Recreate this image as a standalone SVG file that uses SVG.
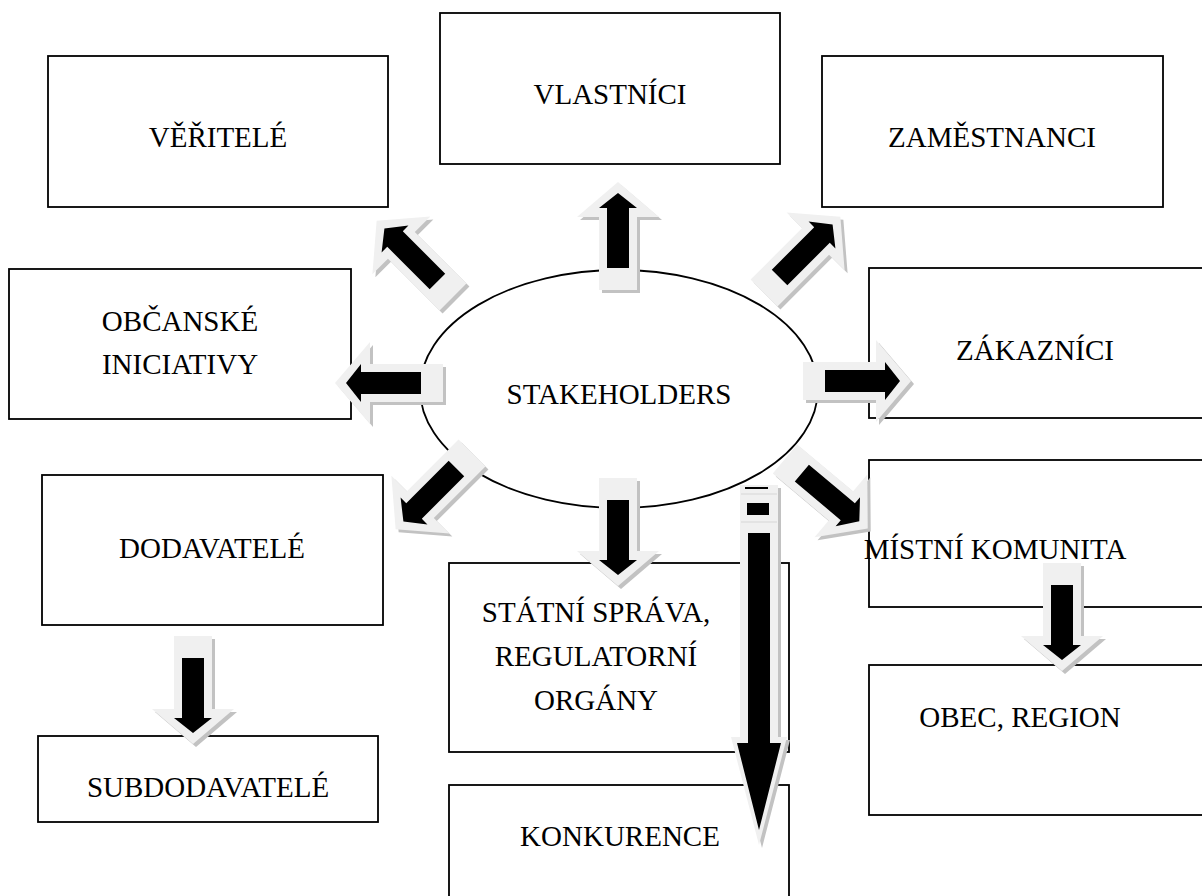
<svg xmlns="http://www.w3.org/2000/svg" xmlns:xlink="http://www.w3.org/1999/xlink" width="1202" height="896" viewBox="0 0 1202 896">
  <style>
    .box { fill: #ffffff; stroke: #000000; stroke-width: 1.8; }
    .hub { fill: #ffffff; stroke: #000000; stroke-width: 1.8; }
    .label { font-family: "Liberation Serif", "Times New Roman", serif; font-size: 29px; fill: #000000; text-anchor: middle; }
    .shadow { fill: #c2c2c2; }
    .light { fill: #f0f0f0; }
    .core { fill: #000000; }
    .sep { stroke: #d6d6d6; stroke-width: 1.2; fill: none; }
  </style>
  <defs>
    <!-- block arrow drawn pointing right, tail centre at the origin -->
    <path id="arrow-outer" d="M0,-19 H73 V-41 L108,0 L73,41 V19 H0 Z"/>
    <path id="arrow-inner" d="M22,-11 H82 V-19 L97,0 L82,19 V11 H22 Z"/>
  </defs>

  <rect width="1202" height="896" fill="#ffffff"/>

  <g id="nodes">
    <g id="veritele">
      <rect class="box" x="48" y="56" width="340" height="151"/>
      <text class="label" x="218" y="147">VĚŘITELÉ</text>
    </g>
    <g id="vlastnici">
      <rect class="box" x="440" y="13" width="340" height="151"/>
      <text class="label" x="610" y="104">VLASTNÍCI</text>
    </g>
    <g id="zamestnanci">
      <rect class="box" x="822" y="56" width="341" height="151"/>
      <text class="label" x="992" y="147">ZAMĚSTNANCI</text>
    </g>
    <g id="obcanske-iniciativy">
      <rect class="box" x="9" y="269" width="342" height="150"/>
      <text class="label" x="180" y="331">OBČANSKÉ</text>
      <text class="label" x="180" y="374">INICIATIVY</text>
    </g>
    <g id="zakaznici">
      <rect class="box" x="869" y="268" width="340" height="150"/>
      <text class="label" x="1035" y="360">ZÁKAZNÍCI</text>
    </g>
    <g id="dodavatele">
      <rect class="box" x="42" y="475" width="341" height="150"/>
      <text class="label" x="212" y="558">DODAVATELÉ</text>
    </g>
    <g id="statni-sprava">
      <rect class="box" x="449" y="563" width="340" height="189"/>
      <text class="label" x="596" y="622">STÁTNÍ SPRÁVA,</text>
      <text class="label" x="596" y="666">REGULATORNÍ</text>
      <text class="label" x="596" y="710">ORGÁNY</text>
    </g>
    <g id="mistni-komunita">
      <rect class="box" x="869" y="460" width="340" height="147"/>
      <text class="label" x="995" y="559">MÍSTNÍ KOMUNITA</text>
    </g>
    <g id="obec-region">
      <rect class="box" x="869" y="665" width="340" height="150"/>
      <text class="label" x="1020" y="727">OBEC, REGION</text>
    </g>
    <g id="subdodavatele">
      <rect class="box" x="38" y="736" width="340" height="86"/>
      <text class="label" x="208" y="797">SUBDODAVATELÉ</text>
    </g>
    <g id="konkurence">
      <rect class="box" x="449" y="785" width="340" height="120"/>
      <text class="label" x="620" y="846">KONKURENCE</text>
    </g>
    <g id="stakeholders">
      <ellipse class="hub" cx="619" cy="389" rx="199" ry="119"/>
      <text class="label" x="619" y="404">STAKEHOLDERS</text>
    </g>
  </g>

  <g id="connectors">
    <!-- to VLASTNÍCI -->
    <g transform="translate(618,290)">
      <use xlink:href="#arrow-outer" class="shadow" transform="translate(3,3) rotate(-90)"/>
      <use xlink:href="#arrow-outer" class="light" transform="rotate(-90)"/>
      <use xlink:href="#arrow-inner" class="core" transform="rotate(-90)"/>
    </g>
    <!-- to VĚŘITELÉ -->
    <g transform="translate(453,297)">
      <use xlink:href="#arrow-outer" class="shadow" transform="translate(3,3) rotate(-135)"/>
      <use xlink:href="#arrow-outer" class="light" transform="rotate(-135)"/>
      <use xlink:href="#arrow-inner" class="core" transform="rotate(-135)"/>
    </g>
    <!-- to ZAMĚSTNANCI -->
    <g transform="translate(764,293)">
      <use xlink:href="#arrow-outer" class="shadow" transform="translate(3,3) rotate(-45)"/>
      <use xlink:href="#arrow-outer" class="light" transform="rotate(-45)"/>
      <use xlink:href="#arrow-inner" class="core" transform="rotate(-45)"/>
    </g>
    <!-- to OBČANSKÉ INICIATIVY -->
    <g transform="translate(443,383)">
      <use xlink:href="#arrow-outer" class="shadow" transform="translate(3,3) rotate(180)"/>
      <use xlink:href="#arrow-outer" class="light" transform="rotate(180)"/>
      <use xlink:href="#arrow-inner" class="core" transform="rotate(180)"/>
    </g>
    <!-- to ZÁKAZNÍCI -->
    <g transform="translate(803,381)">
      <use xlink:href="#arrow-outer" class="shadow" transform="translate(3,3)"/>
      <use xlink:href="#arrow-outer" class="light"/>
      <use xlink:href="#arrow-inner" class="core"/>
    </g>
    <!-- to DODAVATELÉ -->
    <g transform="translate(472,453)">
      <use xlink:href="#arrow-outer" class="shadow" transform="translate(3,3) rotate(135)"/>
      <use xlink:href="#arrow-outer" class="light" transform="rotate(135)"/>
      <use xlink:href="#arrow-inner" class="core" transform="rotate(135)"/>
    </g>
    <!-- to STÁTNÍ SPRÁVA -->
    <g transform="translate(618,478)">
      <use xlink:href="#arrow-outer" class="shadow" transform="translate(3,3) rotate(90)"/>
      <use xlink:href="#arrow-outer" class="light" transform="rotate(90)"/>
      <use xlink:href="#arrow-inner" class="core" transform="rotate(90)"/>
    </g>
    <!-- to MÍSTNÍ KOMUNITA -->
    <g transform="translate(785,459)">
      <use xlink:href="#arrow-outer" class="shadow" transform="translate(3,3) rotate(40)"/>
      <use xlink:href="#arrow-outer" class="light" transform="rotate(40)"/>
      <use xlink:href="#arrow-inner" class="core" transform="rotate(40)"/>
    </g>
    <!-- DODAVATELÉ to SUBDODAVATELÉ -->
    <g transform="translate(193,636)">
      <use xlink:href="#arrow-outer" class="shadow" transform="translate(3,3) rotate(90)"/>
      <use xlink:href="#arrow-outer" class="light" transform="rotate(90)"/>
      <use xlink:href="#arrow-inner" class="core" transform="rotate(90)"/>
    </g>
    <!-- MÍSTNÍ KOMUNITA to OBEC, REGION -->
    <g transform="translate(1062,563)">
      <use xlink:href="#arrow-outer" class="shadow" transform="translate(3,3) rotate(90)"/>
      <use xlink:href="#arrow-outer" class="light" transform="rotate(90)"/>
      <use xlink:href="#arrow-inner" class="core" transform="rotate(90)"/>
    </g>
    <!-- long striped arrow to KONKURENCE -->
    <g>
      <path class="shadow" d="M743,488 H781 V740 H790 L762,848 L734,740 H743 Z"/>
      <path class="light" d="M740,485 H778 V737 H787 L759,845 L731,737 H740 Z"/>
      <line class="sep" x1="741" y1="494" x2="777" y2="494"/>
      <line class="sep" x1="741" y1="522" x2="777" y2="522"/>
      <rect class="core" x="745" y="487" width="23" height="2"/>
      <rect class="core" x="747" y="503" width="22" height="12"/>
      <path class="core" d="M748,533 H770 V743 H781 L759,830 L737,743 H748 Z"/>
    </g>
  </g>
</svg>
